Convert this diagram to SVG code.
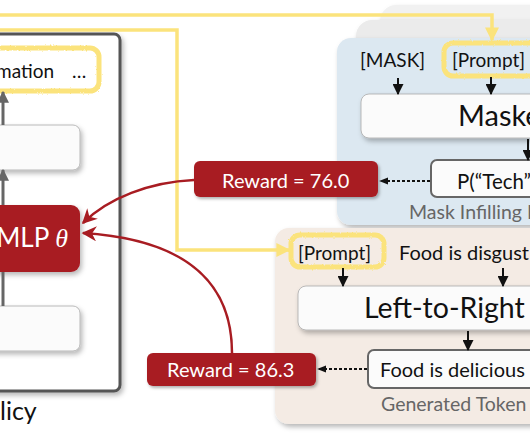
<svg xmlns="http://www.w3.org/2000/svg" width="530" height="442" viewBox="0 0 530 442">
<defs>
<filter id="sh" x="-20%" y="-20%" width="140%" height="150%"><feDropShadow dx="2" dy="3" stdDeviation="2.5" flood-color="#000" flood-opacity="0.28"/></filter>
<filter id="shs" x="-20%" y="-20%" width="140%" height="150%"><feDropShadow dx="1.5" dy="2" stdDeviation="1.5" flood-color="#000" flood-opacity="0.3"/></filter>
<filter id="rough" x="-10%" y="-20%" width="120%" height="140%"><feTurbulence type="fractalNoise" baseFrequency="0.5" numOctaves="2" seed="3"/><feDisplacementMap in="SourceGraphic" scale="2.5"/></filter>
<marker id="ay" viewBox="0 0 10 10" refX="9" refY="5" markerWidth="4" markerHeight="4" orient="auto" markerUnits="strokeWidth"><path d="M0,0 L10,5 L0,10 z" fill="#fbe37c"/></marker>
<marker id="ab" viewBox="0 0 10 10" refX="9" refY="5" markerWidth="5.5" markerHeight="5.5" orient="auto" markerUnits="strokeWidth"><path d="M0,0 L10,5 L0,10 z" fill="#111"/></marker>
<marker id="ag" viewBox="0 0 10 10" refX="9" refY="5" markerWidth="4" markerHeight="4" orient="auto" markerUnits="strokeWidth"><path d="M0,0 L10,5 L0,10 z" fill="#666"/></marker>
<marker id="ar" viewBox="0 0 10 10" refX="9" refY="5" markerWidth="6" markerHeight="6" orient="auto" markerUnits="strokeWidth"><path d="M0,0 L10,5 L0,10 L3,5 z" fill="#a81c22"/></marker>
<marker id="ad" viewBox="0 0 10 10" refX="9" refY="5" markerWidth="5" markerHeight="5" orient="auto" markerUnits="strokeWidth"><path d="M0,1 L10,5 L0,9 z" fill="#111"/></marker>
</defs>
<style>
text{font-family:Lato,"Open Sans","DejaVu Sans",sans-serif;fill:#111}
.wbox{fill:#fbfbfb;stroke:#aaa;stroke-width:0.8}
.obox{fill:#fbfbfb;stroke:#666;stroke-width:2}
.red{fill:#a81c22}
.hl{fill:none;stroke:#fbe37c;stroke-width:5}
.rt{fill:#fff;font-size:20px}
.gt{fill:#666;font-size:19.5px}
.tk{font-size:19px}
.yl{fill:none;stroke:#fbe37c;stroke-width:3.5}
.bl{fill:none;stroke:#111;stroke-width:2}
.gl{fill:none;stroke:#666;stroke-width:3}
.dl{fill:none;stroke:#111;stroke-width:1.8;stroke-dasharray:3 2}
.rl{fill:none;stroke:#a81c22;stroke-width:2.5}
</style>

<g id="policy">
<rect x="-20" y="34" width="140" height="357" rx="6" fill="#fff" stroke="#555" stroke-width="3" filter="url(#sh)"/>
<text x="0" y="420" font-size="25">licy</text>
</g>
<g id="tokens-out">
<rect x="-20" y="48" width="119" height="43" rx="9" class="hl" filter="url(#rough)"/>
<text x="-4" y="78" font-size="19">mation</text>
<text x="72" y="78" font-size="19">…</text>
</g>
<g id="layer-top"><rect x="-20" y="125" width="100" height="45" rx="7" class="wbox" filter="url(#sh)"/></g>
<g id="mlp">
<rect x="-20" y="205" width="100" height="67" rx="9" class="red" filter="url(#sh)"/>
<text x="68" y="247" font-size="26" text-anchor="end" style="fill:#fff">MLP <tspan font-family="'Liberation Serif',serif" font-style="italic">θ</tspan></text>
</g>
<g id="layer-bottom"><rect x="-20" y="306" width="100" height="45" rx="7" class="wbox" filter="url(#sh)"/></g>

<g id="mask-panel">
<rect x="380" y="5" width="180" height="190" rx="16" fill="#f1f1f1" filter="url(#sh)"/>
<rect x="356" y="20" width="200" height="190" rx="16" fill="#ebebeb" filter="url(#sh)"/>
<rect x="337" y="38" width="210" height="187" rx="14" fill="#dce8f1" filter="url(#sh)"/>
<text x="360" y="67" class="tk">[MASK]</text>
<rect x="444" y="43" width="95" height="33" rx="9" class="hl" filter="url(#rough)"/>
<text x="452" y="67" class="tk">[Prompt]</text>
<rect x="361" y="94" width="190" height="44" rx="8" class="wbox" filter="url(#sh)"/>
<text x="458" y="126" font-size="29">Maske</text>
<rect x="431" y="160" width="120" height="37" rx="6" class="obox"/>
<text x="457" y="189" font-size="20.5">P(“Tech”</text>
<text x="409" y="219" class="gt">Mask Infilling L</text>
</g>
<g id="lr-panel">
<rect x="275" y="228" width="275" height="196" rx="14" fill="#f4ebe4" filter="url(#sh)"/>
<rect x="291" y="235" width="93" height="32" rx="9" class="hl" filter="url(#rough)"/>
<text x="298" y="260" class="tk">[Prompt]</text>
<text x="399" y="260" font-size="20">Food is disgust</text>
<rect x="298" y="286" width="252" height="44" rx="8" class="wbox" filter="url(#sh)"/>
<text x="364" y="318" font-size="28.5">Left-to-Right</text>
<rect x="368" y="350" width="180" height="38" rx="6" class="obox"/>
<text x="380" y="377" font-size="20">Food is delicious</text>
<text x="381" y="411" class="gt">Generated Token</text>
</g>
<g id="reward1">
<rect x="194" y="161" width="184" height="36" rx="6" class="red" filter="url(#shs)"/>
<text x="222" y="188" class="rt">Reward = 76.0</text>
</g>
<g id="reward2">
<rect x="147" y="353" width="169" height="33" rx="6" class="red" filter="url(#shs)"/>
<text x="167" y="377" class="rt">Reward = 86.3</text>
</g>

<g id="connectors">
<path class="yl" d="M0,15 H492 V40" marker-end="url(#ay)"/>
<path class="yl" d="M0,30 H177 V250 H289" marker-end="url(#ay)"/>
<path class="gl" d="M3,125 V92" marker-end="url(#ag)"/>
<path class="gl" d="M3,205 V170" marker-end="url(#ag)"/>
<path class="gl" d="M3,306 V272"/>
<path class="bl" d="M398,78 V94" marker-end="url(#ab)"/>
<path class="bl" d="M491,77 V94" marker-end="url(#ab)"/>
<path class="bl" d="M528,139 V160" marker-end="url(#ab)"/>
<path class="bl" d="M343,268 V286" marker-end="url(#ab)"/>
<path class="bl" d="M503,268 V286" marker-end="url(#ab)"/>
<path class="bl" d="M468,331 V350" marker-end="url(#ab)"/>
<path class="dl" d="M430,181 H380" marker-end="url(#ad)"/>
<path class="dl" d="M367,369 H318" marker-end="url(#ad)"/>
<path class="rl" d="M194,180 C150,182 108,198 83,223" marker-end="url(#ar)"/>
<path class="rl" d="M232,353 C232,290 195,240 83,233" marker-end="url(#ar)"/>
</g>
</svg>
